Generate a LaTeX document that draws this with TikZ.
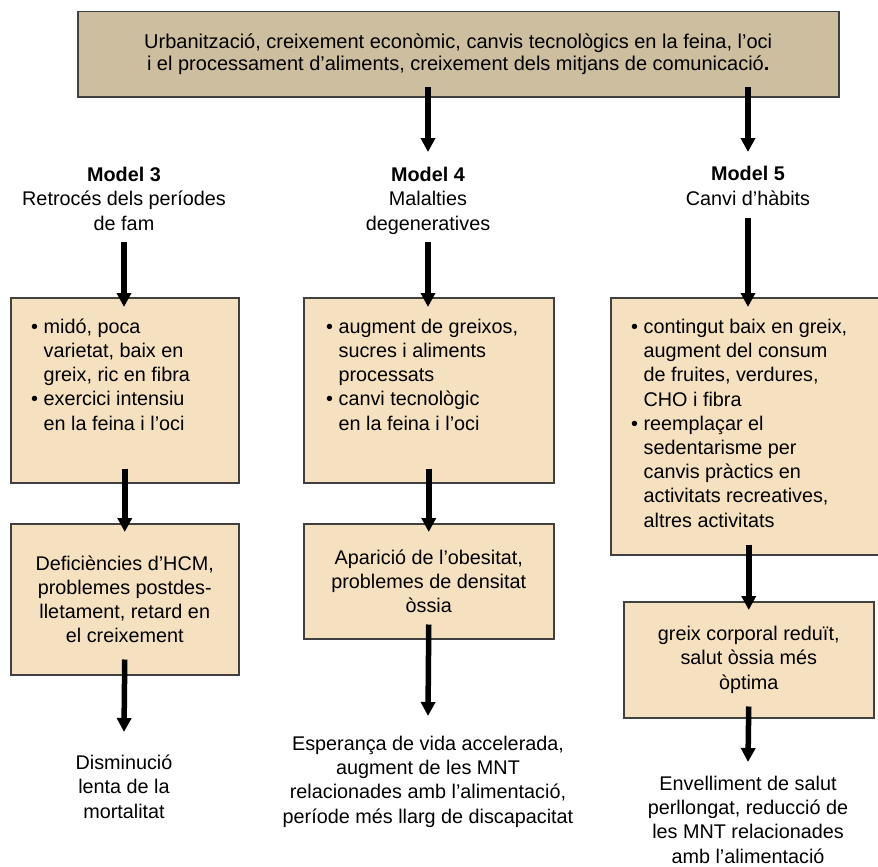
\documentclass[tikz,border=0pt]{standalone}
\usepackage{fontspec}
\setmainfont{Liberation Sans}
\usetikzlibrary{arrows.meta,calc}
\definecolor{topfill}{RGB}{205,190,160}
\definecolor{boxfill}{RGB}{245,225,191}
\definecolor{boxline}{RGB}{64,64,64}
\newcommand\bind{\phantom{•\ }}
\begin{document}
\begin{tikzpicture}[x=1pt,y=-1pt,
  every node/.style={font=\fontsize{19.8}{24.2}\selectfont, inner sep=0pt},
  boxbase/.style={draw=boxline, line width=1.5pt, anchor=north west, align=center},
  box/.style={boxbase, fill=boxfill},
  topbox/.style={boxbase, fill=topfill, font=\fontsize{20}{21.5}\selectfont},
  ttl/.style={anchor=base, align=center},
  btxt/.style={anchor=base west, align=left},
  arr/.style={line width=5.5pt, -{Triangle[length=14pt,width=14pt]}}]
\useasboundingbox (0,0) rectangle (878,867);

\node[topbox, minimum width=761pt, minimum height=85pt] (top) at (77,11)
  {Urbanització, creixement econòmic, canvis tecnològics en la feina, l’oci\\
   i el processament d’aliments, creixement dels mitjans de comunicació\textbf{.}};

% titles (anchor base = baseline of the last line)
\node[ttl] (t3) at (124,230) {\textbf{Model 3}\\Retrocés dels períodes\\de fam};
\node[ttl] (t4) at (428,230) {\textbf{Model 4}\\Malalties\\degeneratives};
\node[ttl] (t5) at (748,205) {\textbf{Model 5}\\Canvi d’hàbits};

% first boxes
\node[box, minimum width=228pt, minimum height=185pt] (b3a) at (10,297) {};
\node[btxt] (x3a) at (31,430) {• midó, poca\\\bind varietat, baix en\\\bind greix, ric en fibra\\• exercici intensiu\\\bind en la feina i l’oci};
\node[box, minimum width=250pt, minimum height=185pt] (b4a) at (303,297) {};
\node[btxt] (x4a) at (326,430) {• augment de greixos,\\\bind sucres i aliments\\\bind processats\\• canvi tecnològic\\\bind en la feina i l’oci};
\node[box, minimum width=268pt, minimum height=257pt] (b5a) at (610,297) {};
\node[btxt] (x5a) at (631,527) {• contingut baix en greix,\\\bind augment del consum\\\bind de fruites, verdures,\\\bind CHO i fibra\\• reemplaçar el\\\bind sedentarisme per\\\bind canvis pràctics en\\\bind activitats recreatives,\\\bind altres activitats};

% second boxes
\node[box, minimum width=228pt, minimum height=151pt] (b3b) at (10,523)
  {Deficiències d’HCM,\\problemes postdes-\\lletament, retard en\\el creixement};
\node[box, minimum width=250pt, minimum height=115pt] (b4b) at (303,523)
  {Aparició de l’obesitat,\\problemes de densitat\\òssia};
\node[box, minimum width=250pt, minimum height=116pt] (b5b) at (623,601)
  {greix corporal reduït,\\salut òssia més\\òptima};

% outcomes
\node[ttl] (o3) at (124,818) {Disminució\\lenta de la\\mortalitat};
\node[ttl] (o4) at (428,823) {Esperança de vida accelerada,\\augment de les MNT\\relacionades amb l’alimentació,\\període més llarg de discapacitat};
\node[ttl] (o5) at (748,863) {Envelliment de salut\\perllongat, reducció de\\les MNT relacionades\\amb l’alimentació};

% arrows
\draw[arr] ($(top.south -| t4.base)+(0,-11)$) -- ($(t4.base)+(0,-78)$);
\draw[arr] ($(top.south -| t5.base)+(0,-11)$) -- ($(t5.base)+(0,-53)$);
\draw[arr] ($(t3.base)+(0,12)$) -- ($(b3a.north -| t3.base)+(0,10)$);
\draw[arr] ($(t4.base)+(0,12)$) -- ($(b4a.north -| t4.base)+(0,10)$);
\draw[arr] ($(t5.base)+(0,13)$) -- ($(b5a.north -| t5.base)+(0,10)$);
\draw[arr] ($(b3a.south)+(0,-15)$) -- ($(b3b.north)+(0,9)$);
\draw[arr] ($(b4a.south)+(0,-15)$) -- ($(b4b.north)+(0,9)$);
\draw[arr] ($(b5a.south -| b5b.north)+(0,-11)$) -- ($(b5b.north)+(0,9)$);
\draw[arr] ($(b3b.south)+(0,-16)$) -- ($(o3.base)+(0,-86)$);
\draw[arr] ($(b4b.south)+(0,-15)$) -- ($(o4.base)+(0,-107)$);
\draw[arr] ($(b5b.south)+(0,-12)$) -- ($(o5.base)+(0,-101)$);
\end{tikzpicture}
\end{document}
